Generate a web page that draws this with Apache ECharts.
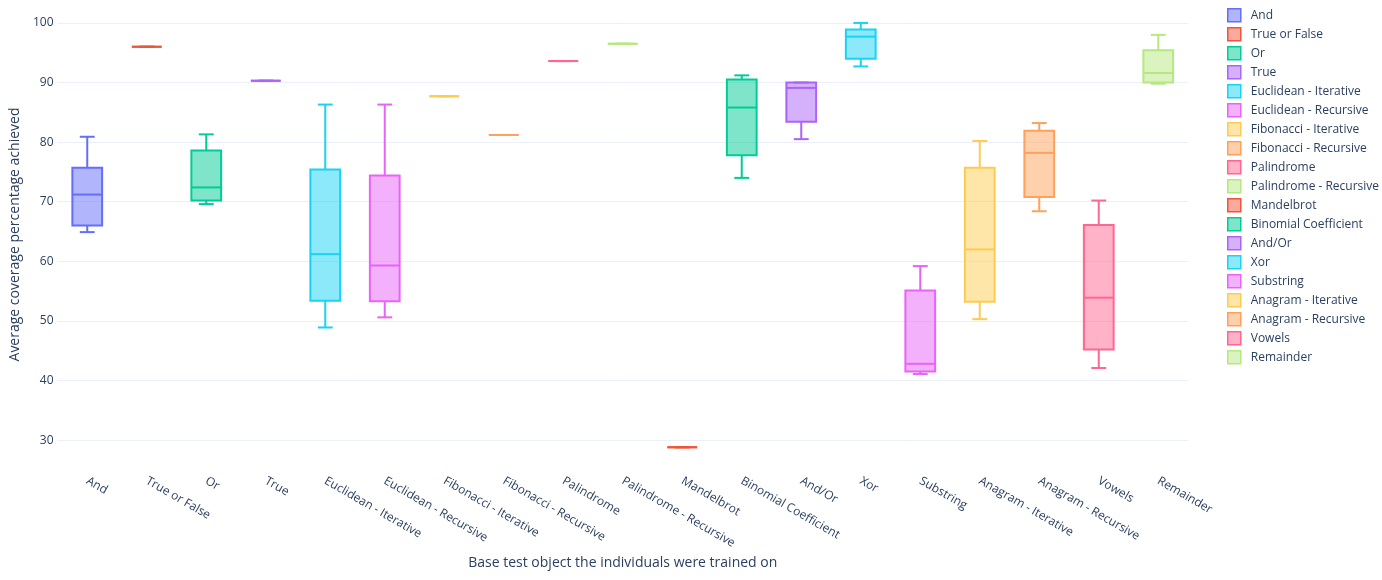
<!DOCTYPE html>
<html>
<head>
<meta charset="utf-8">
<script src="https://cdn.jsdelivr.net/npm/echarts@6/dist/echarts.min.js"></script>
<style>
  html, body { margin: 0; padding: 0; background: #fff; }
  #chart { width: 1382px; height: 580px; }
</style>
</head>
<body>
<div id="chart"></div>
<script>
// box plot per test object: low whisker, Q1, median, Q3, high whisker
const categories = ['And', 'True or False', 'Or', 'True', 'Euclidean - Iterative', 'Euclidean - Recursive',
  'Fibonacci - Iterative', 'Fibonacci - Recursive', 'Palindrome', 'Palindrome - Recursive', 'Mandelbrot',
  'Binomial Coefficient', 'And/Or', 'Xor', 'Substring', 'Anagram - Iterative', 'Anagram - Recursive',
  'Vowels', 'Remainder'];
const lows    = [64.9, 96.0, 69.6, 90.3, 48.9, 50.6, 87.7, 81.2, 93.6, 96.5, 28.8, 74.0, 80.5, 92.7, 41.1, 50.3, 68.4, 42.1, 89.8];
const q1s     = [66.0, 96.0, 70.2, 90.3, 53.4, 53.3, 87.7, 81.2, 93.6, 96.5, 28.8, 77.8, 83.4, 94.0, 41.5, 53.2, 70.8, 45.2, 90.0];
const medians = [71.2, 96.0, 72.4, 90.3, 61.2, 59.3, 87.7, 81.2, 93.6, 96.5, 28.8, 85.8, 89.1, 97.7, 42.8, 62.0, 78.2, 53.9, 91.6];
const q3s     = [75.7, 96.0, 78.6, 90.3, 75.4, 74.4, 87.7, 81.2, 93.6, 96.5, 28.8, 90.5, 90.0, 98.9, 55.1, 75.7, 81.9, 66.1, 95.4];
const highs   = [80.9, 96.0, 81.3, 90.3, 86.3, 86.3, 87.7, 81.2, 93.6, 96.5, 28.8, 91.2, 90.0, 100.0, 59.2, 80.2, 83.2, 70.2, 98.0];
const yTicks  = [30, 40, 50, 60, 70, 80, 90, 100];

const blue = '#636efa', red = '#ef553b', green = '#00cc96', purple = '#ab63fa', cyan = '#19d3f3',
  magenta = '#e763fa', yellow = '#fecb52', orange = '#ffa15a', pink = '#ff6692', lime = '#b6e880';
const boxColors = [blue, red, green, purple, cyan, magenta, yellow, orange, pink, lime,
  red, green, purple, cyan, magenta, yellow, orange, pink, lime];
const textColor = '#2a3f5f';
const font = '"Open Sans", "Noto Sans", sans-serif';

function fade(hex, a) {
  const n = parseInt(hex.slice(1), 16);
  return 'rgba(' + (n >> 16) + ',' + ((n >> 8) & 255) + ',' + (n & 255) + ',' + a + ')';
}

function renderBox(params, api) {
  const x = api.value(0);
  const band = api.size([1, 0])[0];
  const half = band * 0.25;
  const cap = band * 0.125;
  const stroke = boxColors[x];
  const lo = api.coord([x, api.value(1)]);
  const b1 = api.coord([x, api.value(2)]);
  const md = api.coord([x, api.value(3)]);
  const b3 = api.coord([x, api.value(4)]);
  const hi = api.coord([x, api.value(5)]);
  const cx = md[0];
  const line = { stroke: stroke, lineWidth: 2 };
  return {
    type: 'group',
    children: [
      { type: 'line', shape: { x1: cx, y1: lo[1], x2: cx, y2: b1[1] }, style: line },
      { type: 'line', shape: { x1: cx, y1: hi[1], x2: cx, y2: b3[1] }, style: line },
      { type: 'line', shape: { x1: cx - cap, y1: lo[1], x2: cx + cap, y2: lo[1] }, style: line },
      { type: 'line', shape: { x1: cx - cap, y1: hi[1], x2: cx + cap, y2: hi[1] }, style: line },
      { type: 'rect', shape: { x: cx - half, y: b3[1], width: half * 2, height: b1[1] - b3[1] },
        style: { fill: fade(stroke, 0.5), stroke: stroke, lineWidth: 2 } },
      { type: 'line', shape: { x1: cx - half, y1: md[1], x2: cx + half, y2: md[1] }, style: line }
    ]
  };
}

const chart = echarts.init(document.getElementById('chart'));

const series = categories.map(function (name, i) {
  const c = boxColors[i];
  return {
    name: name,
    type: 'custom',
    renderItem: renderBox,
    encode: { x: 0, y: [1, 2, 3, 4, 5] },
    itemStyle: { color: fade(c, 0.5), borderColor: c, borderWidth: 1.5 },
    data: [[i, lows[i], q1s[i], medians[i], q3s[i], highs[i]]]
  };
});

const option = {
  backgroundColor: '#fff',
  animation: false,
  textStyle: { fontFamily: font },
  grid: { left: 57.5, right: 194, top: 11, bottom: 122 },
  legend: {
    orient: 'vertical',
    left: 1222,
    top: 3,
    icon: 'rect',
    itemWidth: 13,
    itemHeight: 13,
    itemGap: 4.5,
    textStyle: { color: textColor, fontSize: 12, fontFamily: font, padding: [0, 0, 0, 5] },
    data: categories.map(function (name, i) {
      const c = boxColors[i];
      return { name: name, itemStyle: { color: fade(c, 0.5), borderColor: c, borderWidth: 1.5 } };
    })
  },
  xAxis: {
    type: 'category',
    data: categories,
    name: 'Base test object the individuals were trained on',
    nameLocation: 'middle',
    nameGap: 97,
    nameTextStyle: { color: textColor, fontSize: 14, fontFamily: font },
    axisLine: { show: false },
    axisTick: { show: false },
    splitLine: { show: false },
    axisLabel: { rotate: -30, margin: 22, color: textColor, fontSize: 12, fontFamily: font, interval: 0 }
  },
  yAxis: {
    type: 'value',
    min: 27,
    max: 102,
    name: 'Average coverage percentage achieved',
    nameLocation: 'middle',
    nameGap: 35,
    nameTextStyle: { color: textColor, fontSize: 14, fontFamily: font },
    axisLine: { show: false },
    axisTick: { show: false, customValues: yTicks },
    axisLabel: { customValues: yTicks, margin: 4, color: textColor, fontSize: 12, fontFamily: font },
    splitLine: { show: true, lineStyle: { color: '#ebf0f8', width: 1 } }
  },
  series: series
};

chart.setOption(option);
</script>
</body>
</html>
